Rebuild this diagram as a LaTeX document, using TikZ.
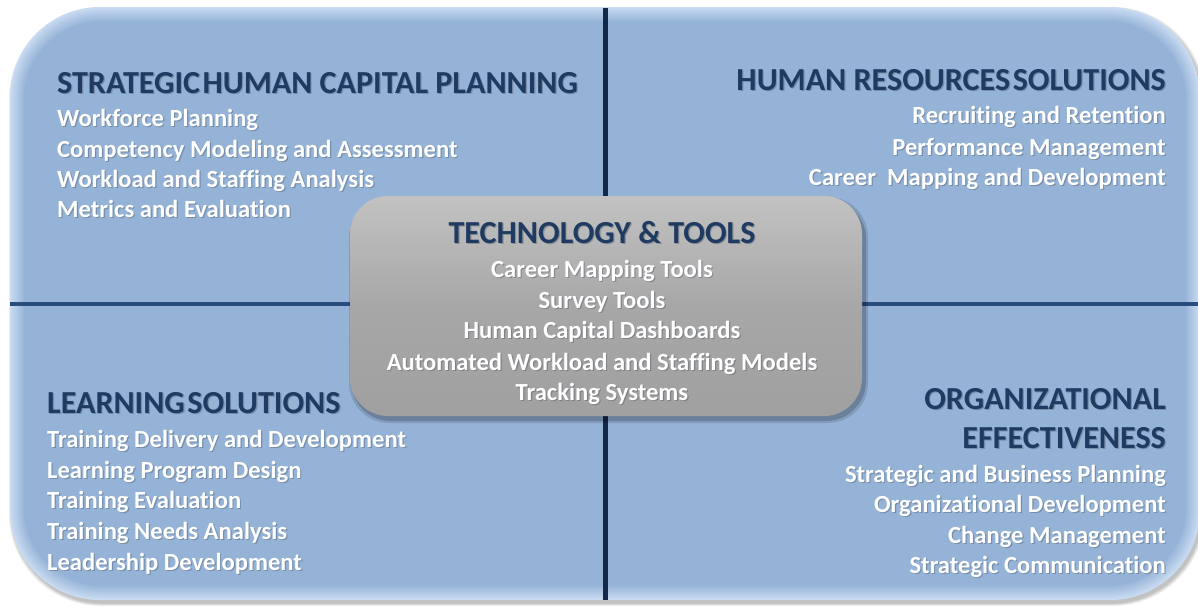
\documentclass[tikz,border=0pt]{standalone}
\usepackage{fontspec}
\setmainfont{Carlito}[Ligatures=NoCommon]
\usetikzlibrary{calc}
\definecolor{bgblue}{HTML}{95B3D7}
\definecolor{edgeblue}{HTML}{C9DCF2}
\definecolor{navy}{HTML}{1F3B61}
\definecolor{vlinec}{HTML}{13294A}
\definecolor{hlinec}{HTML}{284C7E}
\definecolor{boxgray}{HTML}{A7A7A7}
\definecolor{boxlight}{HTML}{C2C2C2}
\definecolor{boxdark}{HTML}{A0A0A0}
\newcommand\lbl[5]{%
  \node[#4,anchor=#3,text=black!60!bgblue,text opacity=0.35] at ($(#2)+(1.2,1.4)$) {#5};
  \node[#4,anchor=#3] (#1) at (#2) {#5};}
\newcommand\tsp{\hspace{2.5pt}}
\begin{document}
\begin{tikzpicture}[x=1pt,y=-1pt,
  item/.style={text=white,font=\fontsize{24.6}{25}\selectfont\bfseries,inner sep=0pt},
  head/.style={text=navy,font=\fontsize{32.1}{32}\selectfont\bfseries,inner sep=0pt},
  techbox/.style={rounded corners=38pt,minimum width=512pt,minimum height=220pt,
    top color=boxlight,bottom color=boxdark,middle color=boxgray,inner sep=0pt}]
\useasboundingbox (0,0) rectangle (1198,606);
\fill[white] (0,0) rectangle (1198,606);
% outer shadow
\foreach \i in {1,...,5}{
  \fill[black,opacity=0.05,rounded corners=92pt] (10-\i*0.6+2,7-\i*0.6+3) rectangle (1200+\i*0.6+2,600+\i*0.6+3);
}
% panel with soft inner rim
\foreach \i in {0,...,12}{
  \pgfmathsetmacro\p{100-\i*100/12}
  \fill[edgeblue!\p!bgblue,rounded corners={90pt-\i*1pt}] (10+\i*1.2,7+\i*1.2) rectangle (1200-\i*1.2,600-\i*1.2);
}
% dividing lines
\coordinate (vt) at (605,8);
\coordinate (vb) at (605,600);
\coordinate (hl) at (10,304);
\coordinate (hr) at (1198,304);
\draw[hlinec,line width=4pt] (hl) -- (hr);
\draw[vlinec,line width=5pt] (vt) -- (vb);
% central box
\fill[black,opacity=0.18,rounded corners=40pt] (351,199) rectangle (866,421);
\fill[black,opacity=0.12,rounded corners=40pt] (349,197) rectangle (868,423);
\node[techbox] (tech) at (606,306) {};
% top-left
\lbl{h1}{57,93}{base west}{head}{STRATEGIC\tsp HUMAN CAPITAL PLANNING}
\lbl{a1}{57,126}{base west}{item}{Workforce Planning}
\lbl{a2}{57,157}{base west}{item}{Competency Modeling and Assessment}
\lbl{a3}{57,187}{base west}{item}{Workload and Staffing Analysis}
\lbl{a4}{57,217}{base west}{item}{Metrics and Evaluation}
% top-right
\lbl{h2}{1166,90}{base east}{head}{HUMAN RESOURCES\tsp SOLUTIONS}
\lbl{b1}{1166,123}{base east}{item}{Recruiting and Retention}
\lbl{b2}{1166,155}{base east}{item}{Performance Management}
\lbl{b3}{1166,185}{base east}{item}{Career\ \ Mapping and Development}
% center
\lbl{h3}{602,243}{base}{head}{TECHNOLOGY \& TOOLS}
\lbl{c1}{602,277}{base}{item}{Career Mapping Tools}
\lbl{c2}{602,308}{base}{item}{Survey Tools}
\lbl{c3}{602,338}{base}{item}{Human Capital Dashboards}
\lbl{c4}{602,370}{base}{item}{Automated Workload and Staffing Models}
\lbl{c5}{602,400}{base}{item}{Tracking Systems}
% bottom-left
\lbl{h4}{47,413}{base west}{head}{LEARNING\tsp SOLUTIONS}
\lbl{d1}{47,447}{base west}{item}{Training Delivery and Development}
\lbl{d2}{47,478}{base west}{item}{Learning Program Design}
\lbl{d3}{47,508}{base west}{item}{Training Evaluation}
\lbl{d4}{47,539}{base west}{item}{Training Needs Analysis}
\lbl{d5}{47,570}{base west}{item}{Leadership Development}
% bottom-right
\lbl{h5}{1166,409}{base east}{head}{ORGANIZATIONAL}
\lbl{h6}{1166,448}{base east}{head}{EFFECTIVENESS}
\lbl{e1}{1166,482}{base east}{item}{Strategic and Business Planning}
\lbl{e2}{1166,512}{base east}{item}{Organizational Development}
\lbl{e3}{1166,543}{base east}{item}{Change Management}
\lbl{e4}{1166,573}{base east}{item}{Strategic Communication}
\end{tikzpicture}
\end{document}
